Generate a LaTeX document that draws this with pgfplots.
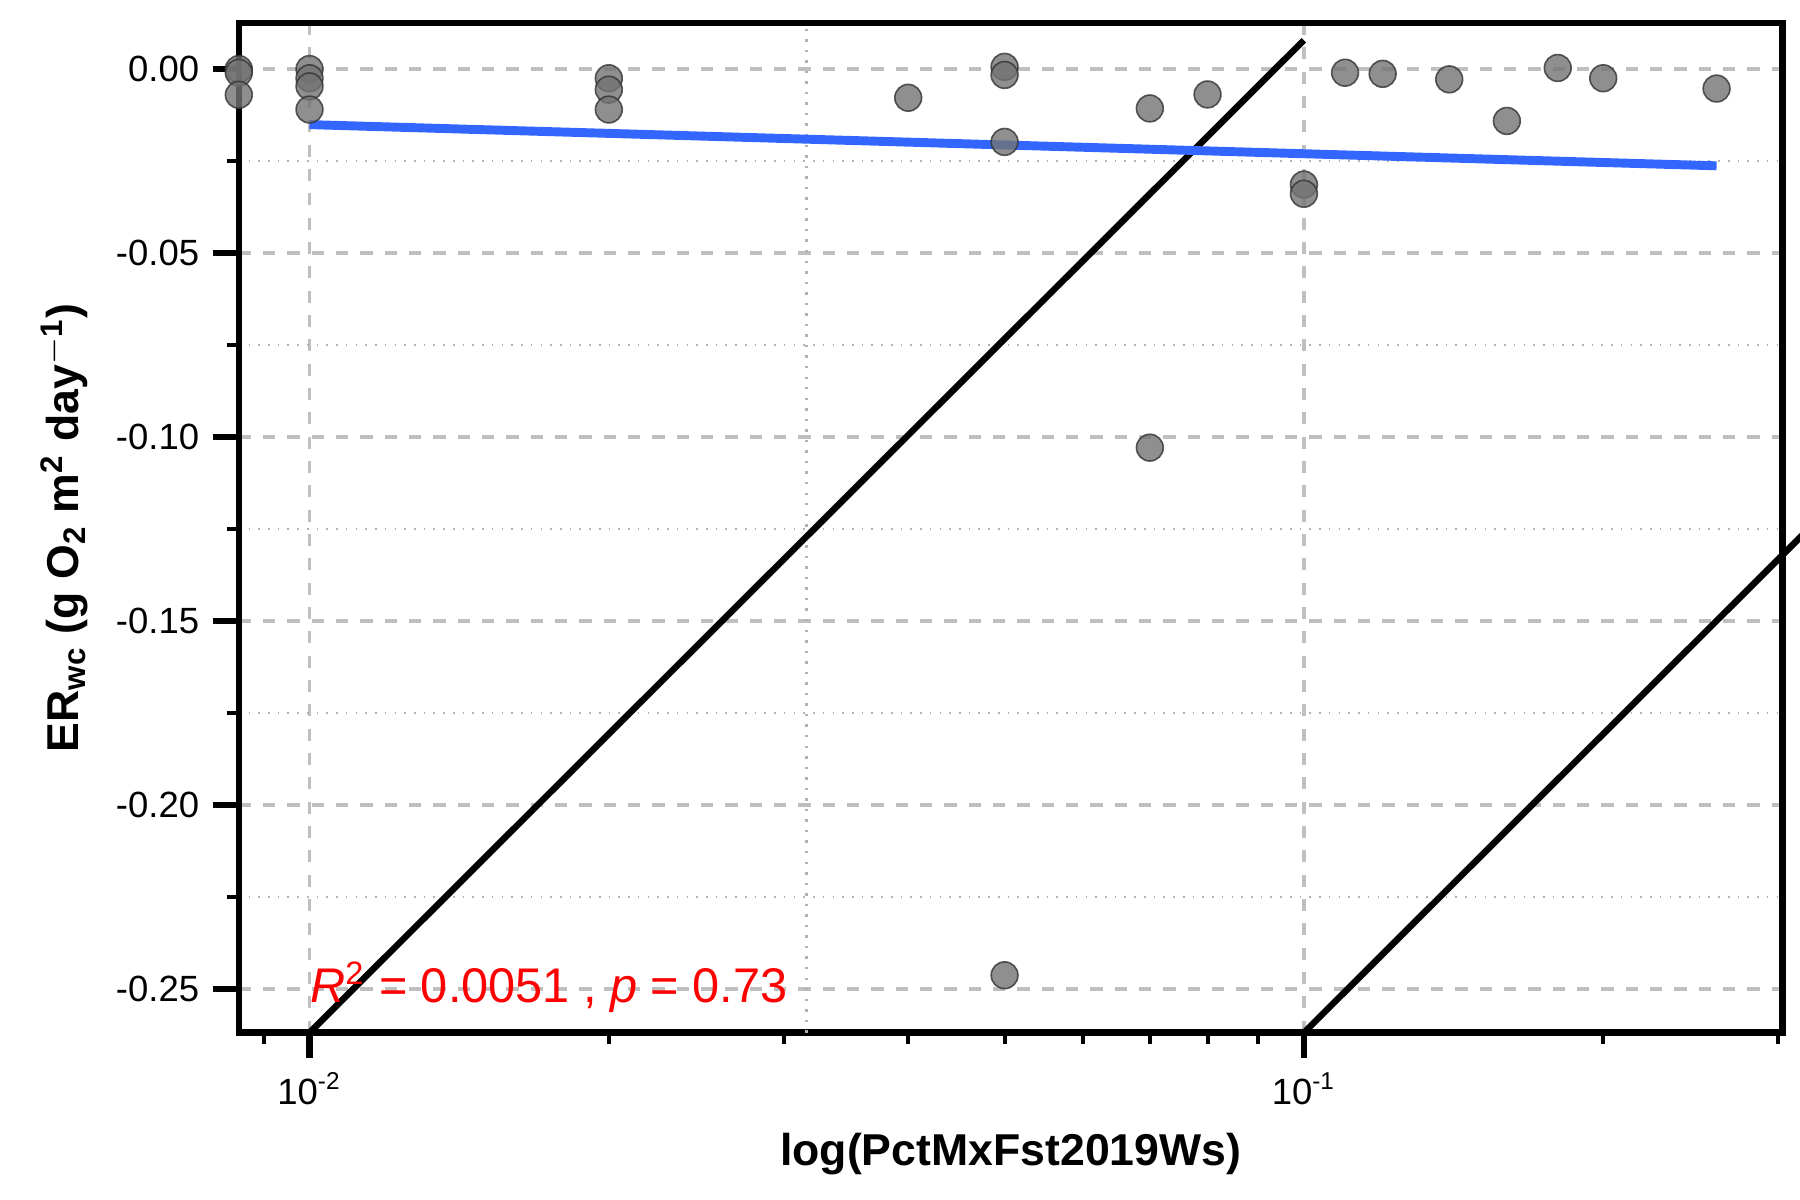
\documentclass[border=0pt]{standalone}
\usepackage{pgfplots}
\pgfplotsset{compat=1.18}
\usepackage{fontspec}
\setmainfont{Liberation Sans}
\begin{document}
\begin{tikzpicture}
\begin{axis}[name=ax, scale only axis, width=13.38cm, height=8.75cm,
 xmode=log, xmin=0.00849, xmax=0.303, ymin=-0.2619, ymax=0.0125,
 log basis x=10,
 xtick pos=bottom, ytick pos=left,
 xtick={0.01,0.1}, xticklabels={10\textsuperscript{-2},10\textsuperscript{-1}},
 minor xtick={0.009,0.02,0.03,0.04,0.05,0.06,0.07,0.08,0.09,0.2,0.3},
 ytick={0,-0.05,-0.1,-0.15,-0.2,-0.25},
 yticklabels={0.00,-0.05,-0.10,-0.15,-0.20,-0.25},
 minor ytick={-0.025,-0.075,-0.125,-0.175,-0.225},
 axis line style={line width=1.6pt},
 major tick style={line width=1.6pt,black},
 minor tick style={line width=1pt,black},
 tick align=outside, major tick length=0.22cm, minor tick length=0.1cm,
 xmajorgrids, ymajorgrids, yminorgrids,
 major grid style={dashed, gray!50, line width=0.8pt},
 minor grid style={dotted, gray!60, line width=0.6pt},
 ticklabel style={font=\fontsize{9}{10}\selectfont},
 /pgf/number format/assume math mode=true,
 xlabel={\textbf{log(PctMxFst2019Ws)}}, ylabel={\textbf{ER\textsubscript{wc} (g O\textsubscript{2} m\textsuperscript{2} day\textsuperscript{$-$1})}},
 label style={font=\fontsize{11}{12}\selectfont},
 xlabel style={at={(rel axis cs:0.5,0)}, anchor=north, yshift=-0.75cm},
 clip=false]
\draw[dotted, gray!60, line width=0.6pt] (axis cs:0.0316228,-0.2619) -- (axis cs:0.0316228,0.0125);
\draw[line width=1.6pt] (axis cs:0.01,-0.2619) -- ++(0,0.25cm);
\draw[line width=1.6pt] (axis cs:0.1,-0.2619) -- ++(0,0.25cm);
\addplot[only marks, mark=*, mark size=3.3pt, fill=black!55, draw=black!80, fill opacity=0.8, draw opacity=0.8] coordinates {
(0.00849,0) (0.00849,-0.001) (0.00849,-0.007)
(0.01,0) (0.01,-0.0025) (0.01,-0.0047) (0.01,-0.011)
(0.02,-0.0025) (0.02,-0.0056) (0.02,-0.011)
(0.04,-0.0078)
(0.05,0.0006) (0.05,-0.0016) (0.05,-0.0198) (0.05,-0.2463)
(0.07,-0.0107) (0.07,-0.1029)
(0.08,-0.0069)
(0.1,-0.0314) (0.1,-0.0339)
(0.11,-0.001) (0.12,-0.0013) (0.14,-0.0028) (0.16,-0.0141)
(0.18,0.0003) (0.2,-0.0025) (0.26,-0.0053)
};
\addplot[color={rgb,255:red,51;green,102;blue,255}, line width=2.2pt] coordinates {(0.01,-0.0151) (0.26,-0.0263)};
\node[anchor=west, red, font=\fontsize{12}{13}\selectfont, inner sep=0pt] at (axis cs:0.01,-0.2495) {\textit{R}\textsuperscript{2} = 0.0051 , \textit{p} = 0.73};
\end{axis}
\pgfresetboundingbox
\path ([xshift=-2.07cm,yshift=-1.45cm]ax.south west) rectangle ([xshift=0.15cm,yshift=0.2cm]ax.north east);
\end{tikzpicture}
\end{document}
